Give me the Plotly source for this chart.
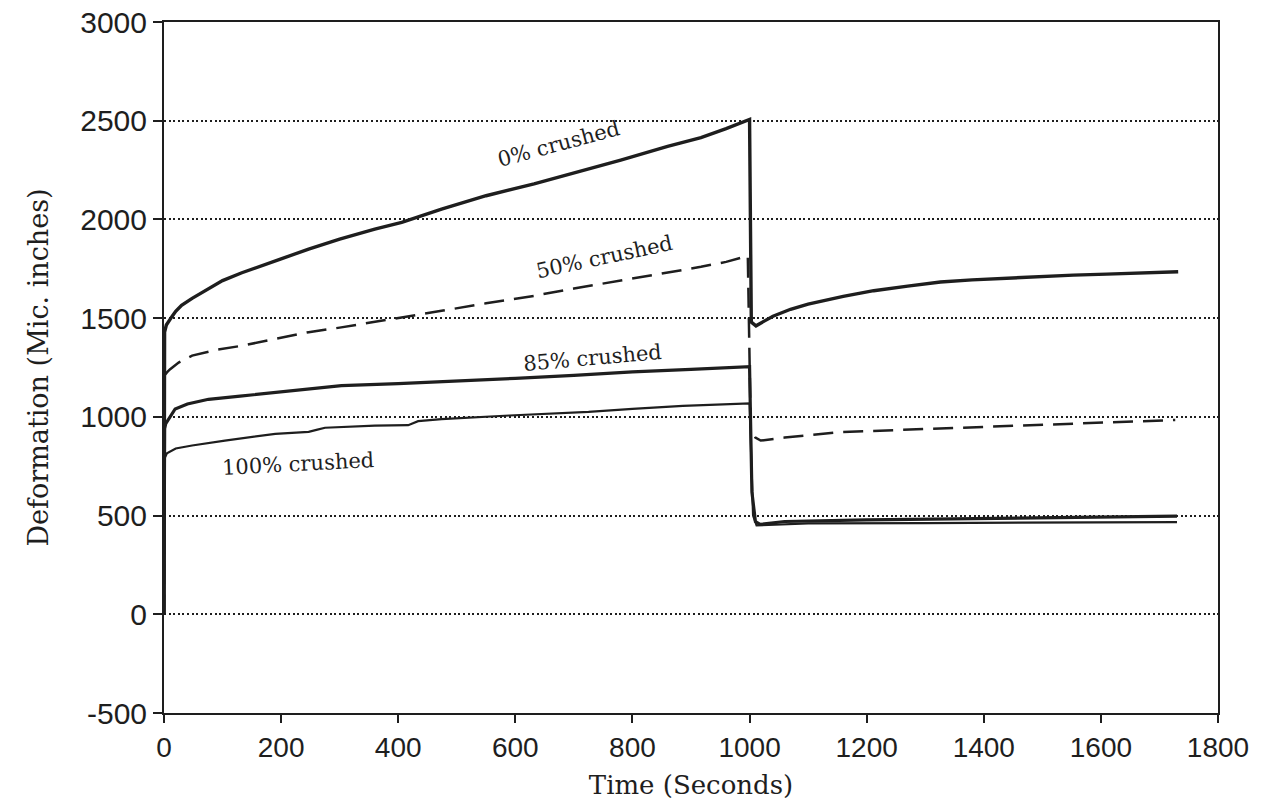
import plotly.graph_objects as go

# ---- data ----
t_0 = [0, 1, 4, 8, 14, 20, 30, 48, 65, 80, 100, 133, 160, 200, 247, 300, 360, 406, 474, 550, 632, 701, 780, 860, 917, 960, 1000,
       1003, 1011, 1025, 1040, 1070, 1100, 1160, 1212, 1270, 1326, 1380, 1440, 1500, 1553, 1610, 1667, 1732]
v_0 = [0, 1430, 1465, 1485, 1510, 1535, 1565, 1600, 1630, 1655, 1690, 1730, 1760, 1800, 1850, 1900, 1951, 1985, 2052, 2120, 2180, 2235, 2300, 2370, 2414, 2460, 2506,
       1480, 1461, 1485, 1510, 1545, 1571, 1610, 1639, 1662, 1683, 1694, 1703, 1711, 1718, 1723, 1728, 1735]

t_50 = [0, 1, 5, 10, 25, 48, 90, 133, 190, 247, 300, 360, 420, 474, 550, 632, 700, 780, 850, 917, 960, 997,
        1002, 1010, 1019, 1060, 1156, 1240, 1326, 1410, 1496, 1610, 1727]
v_50 = [0, 1210, 1225, 1240, 1275, 1310, 1340, 1360, 1395, 1429, 1452, 1480, 1510, 1537, 1575, 1613, 1650, 1690, 1725, 1760, 1785, 1816,
        940, 895, 880, 895, 923, 932, 939, 950, 960, 972, 984]

t_85 = [0, 1, 3, 10, 19, 40, 76, 130, 190, 250, 303, 400, 474, 600, 700, 800, 900, 1000,
        1004, 1010, 1018, 1060, 1200, 1400, 1600, 1730]
v_85 = [0, 940, 966, 1000, 1040, 1065, 1089, 1105, 1124, 1142, 1158, 1168, 1177, 1195, 1210, 1228, 1240, 1254,
        620, 470, 455, 470, 478, 485, 492, 497]

t_100 = [0, 1, 5, 20, 48, 104, 190, 247, 262, 275, 360, 417, 434, 474, 590, 725, 800, 886, 1000,
         1006, 1012, 1030, 1100, 1300, 1500, 1730]
v_100 = [0, 790, 815, 840, 855, 880, 914, 924, 935, 945, 956, 958, 978, 989, 1007, 1025, 1040, 1056, 1068,
         500, 450, 452, 460, 462, 465, 467]

x_ticks = [0, 200, 400, 600, 800, 1000, 1200, 1400, 1600, 1800]
y_ticks = [-500, 0, 500, 1000, 1500, 2000, 2500, 3000]

labels = ["0% crushed", "50% crushed", "85% crushed", "100% crushed"]
label_x = [674, 753, 731, 229]
label_y = [2381, 1809, 1300, 762]
label_angle = [-15, -12, -5, -3]

ink = "#1e1e1e"
serif = "DejaVu Serif"
fig = go.Figure()
fig.add_trace(go.Scatter(x=t_0, y=v_0, mode="lines", line=dict(color=ink, width=3.4), name=labels[0]))
fig.add_trace(go.Scatter(x=t_50, y=v_50, mode="lines", line=dict(color=ink, width=2.5, dash="20px,10px"), name=labels[1]))
fig.add_trace(go.Scatter(x=t_85, y=v_85, mode="lines", line=dict(color=ink, width=3.2), name=labels[2]))
fig.add_trace(go.Scatter(x=t_100, y=v_100, mode="lines", line=dict(color=ink, width=2.2), name=labels[3]))

for txt, lx, ly, ang in zip(labels, label_x, label_y, label_angle):
    fig.add_annotation(x=lx, y=ly, text=txt, showarrow=False, textangle=ang,
                       font=dict(family=serif, size=21, color=ink))

fig.update_layout(
    width=1264, height=806,
    margin=dict(l=164, r=46, t=22, b=93),
    paper_bgcolor="white", plot_bgcolor="white",
    showlegend=False,
)
fig.update_xaxes(
    range=[0, 1800], tickvals=x_ticks, ticktext=[str(v) for v in x_ticks],
    showline=True, linecolor=ink, linewidth=2, mirror=True,
    ticks="outside", ticklen=8, tickcolor=ink, tickwidth=1.5,
    showgrid=False, zeroline=False, automargin=False,
    tickfont=dict(family="Liberation Sans", size=28, color=ink),
    title=dict(text="Time (Seconds)", font=dict(family=serif, size=26, color=ink), standoff=14),
)
fig.update_yaxes(
    range=[-500, 3000], tickvals=y_ticks, ticktext=[str(v) for v in y_ticks],
    showline=True, linecolor=ink, linewidth=2, mirror=True,
    ticks="outside", ticklen=9, tickcolor=ink, tickwidth=1.5,
    showgrid=True, gridcolor=ink, gridwidth=2, griddash="2px,2.6px", zeroline=False, automargin=False,
    tickfont=dict(family="Liberation Sans", size=30, color=ink),
    title=dict(text="Deformation (Mic. inches)", font=dict(family=serif, size=27, color=ink), standoff=24),
)

fig.write_html("out.html")
